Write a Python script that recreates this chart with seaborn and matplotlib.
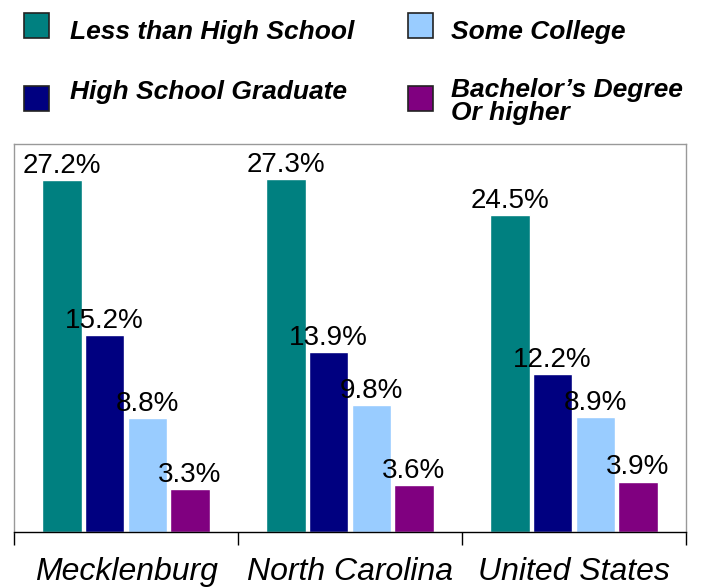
import matplotlib
matplotlib.use("Agg")
import matplotlib.pyplot as plt
from matplotlib.patches import Rectangle
import numpy as np
import pandas as pd
import seaborn as sns

# data
regions = ["Mecklenburg", "North Carolina", "United States"]
levels = ["Less than High School", "High School Graduate", "Some College",
          "Bachelor\u2019s Degree\nOr higher"]
less_than_hs = [27.2, 27.3, 24.5]
hs_graduate = [15.2, 13.9, 12.2]
some_college = [8.8, 9.8, 8.9]
bachelors = [3.3, 3.6, 3.9]
colors = ["#008080", "#000080", "#99CCFF", "#800080"]

df = pd.DataFrame({
    "region": regions * 4,
    "level": np.repeat(levels, 3),
    "pct": less_than_hs + hs_graduate + some_college + bachelors,
})

sns.set_theme(style="white")
plt.rcParams["font.family"] = ["Liberation Sans", "DejaVu Sans"]
plt.rcParams["text.color"] = "black"
plt.rcParams["xtick.color"] = "black"
plt.rcParams["xtick.labelcolor"] = "black"

fig = plt.figure(figsize=(7.04, 5.87), dpi=100)
ax = fig.add_axes([14 / 704, 55 / 587, 672 / 704, 388 / 587])

sns.barplot(data=df, x="region", y="pct", hue="level", hue_order=levels,
            palette=colors, width=0.762, gap=0.085, saturation=1,
            legend=False, ax=ax)

for c in ax.containers:
    ax.bar_label(c, fmt="%.1f%%", padding=1, fontsize=20, color="black")

ax.set_ylim(0, 30)
ax.set_xlim(-0.5, 2.5)
ax.set_yticks([])
ax.set_xlabel("")
ax.set_ylabel("")
ax.set_xticks(range(len(regions)))
ax.set_xticklabels(regions, fontsize=23, style="italic", color="black")
ax.set_xticks([-0.5, 0.5, 1.5, 2.5], minor=True)
ax.tick_params(axis="x", which="major", length=0, pad=18)
ax.tick_params(axis="x", which="minor", length=9, width=1, color="black",
               direction="out", bottom=True)

for s in ["left", "top", "right"]:
    ax.spines[s].set_color("#999999")
    ax.spines[s].set_linewidth(1)
ax.spines["bottom"].set_color("black")
ax.spines["bottom"].set_linewidth(1)

# legend drawn by hand in two columns, as in the original
W, H = 704, 587
# marker x, marker top y, text x, baseline y of the last text line
spots = [(24, 13, 70, 39), (24, 86, 70, 99), (408, 13, 451, 39), (408, 86, 451, 120)]
for (mx, my, tx, ty), lab, col in zip(spots, levels, colors):
    fig.patches.append(Rectangle((mx / W, 1 - (my + 25) / H), 25 / W, 25 / H,
                                 transform=fig.transFigure, facecolor=col,
                                 edgecolor="#222222", linewidth=1.2))
    fig.text(tx / W, 1 - ty / H, lab, fontsize=19, fontweight="bold",
             style="italic", va="baseline", ha="left", linespacing=0.95,
             color="black")

fig.savefig("out.png", dpi=100)
